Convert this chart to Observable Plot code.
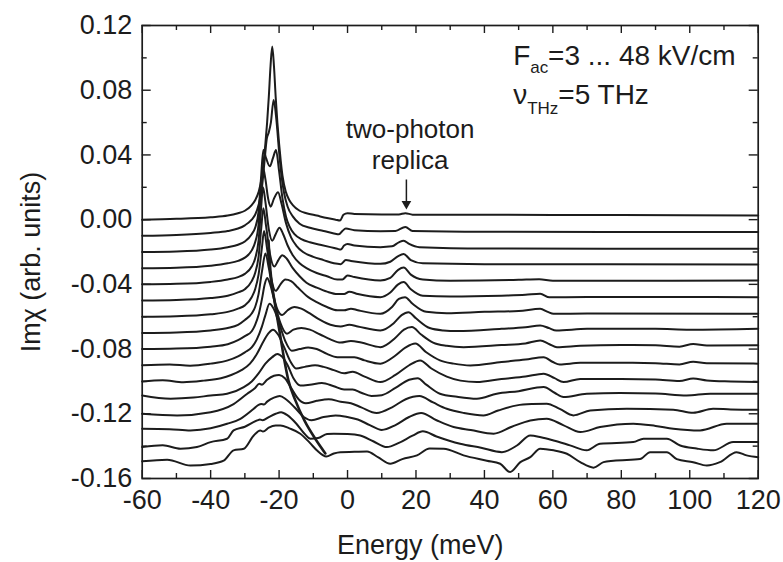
<!DOCTYPE html>
<html><head><meta charset="utf-8">
<script src="https://cdn.jsdelivr.net/npm/d3@7"></script>
<script src="https://cdn.jsdelivr.net/npm/@observablehq/plot@0.6"></script>
<style>html,body{margin:0;padding:0;background:#fff}</style>
</head><body><div id="chart"></div>
<script>
// tick values
const energyTicksMajor = [-60,-40,-20,0,20,40,60,80,100,120];
const energyTicksMinor = [-50,-30,-10,10,30,50,70,90,110];
const imTicksMajor = [0.12,0.08,0.04,0,-0.04,-0.08,-0.12,-0.16];
const imTicksMinor = [0.10,0.06,0.02,-0.02,-0.06,-0.10,-0.14];

// vertical offsets of the stacked spectra (F_ac = 3, 6, ... 48 kV/cm)
const offsets = [0,-0.01,-0.02,-0.03,-0.04,-0.05,-0.06,-0.07,-0.08,-0.09,-0.10,-0.11,-0.12,-0.13,-0.14,-0.15];

// spectra: [energy meV, Im chi relative to its own baseline]
const c00 = [[-60,0],[-50,0.0005],[-40,0.0015],[-35,0.0025],[-32,0.004],[-30,0.0055],[-28,0.009],[-27,0.012],[-26,0.017],[-25,0.027],[-24.5,0.036],[-24,0.047],[-23.5,0.06],[-23,0.076],[-22.5,0.095],[-22,0.107],[-21.5,0.095],[-21,0.076],[-20.5,0.06],[-20,0.047],[-19.5,0.036],[-19,0.027],[-18,0.017],[-17,0.012],[-16,0.009],[-14,0.0055],[-12,0.004],[-9,0.0025],[-6,0.001],[-3.5,0],[-2.2,-0.0005],[-1.2,0.003],[0,0.004],[2,0.0035],[10,0.0032],[15,0.0032],[16.9,0.004],[19,0.0031],[40,0.003],[80,0.0028],[120,0.0025]];
const c01 = [[-60,0],[-50,0.0005],[-40,0.0018],[-35,0.003],[-32,0.0045],[-30,0.0065],[-28,0.01],[-27,0.013],[-26,0.019],[-25,0.03],[-24.3,0.045],[-23.6,0.06],[-23,0.064],[-22.4,0.07],[-21.6,0.084],[-20.8,0.072],[-20,0.052],[-19.3,0.037],[-18.5,0.026],[-17.5,0.018],[-16,0.012],[-14,0.0075],[-11,0.005],[-7,0.003],[-4,0.0015],[-2.5,0.001],[-1.5,0.003],[-0.5,0.0045],[2,0.0035],[9.6,0.0029],[14,0.003],[16.9,0.0055],[19,0.003],[40,0.0025],[120,0.0023]];
const c02 = [[-60,0],[-50,0.0003],[-40,0.0015],[-35,0.003],[-32,0.0045],[-30,0.0065],[-28,0.011],[-27,0.015],[-26,0.025],[-25.3,0.045],[-24.6,0.063],[-23.8,0.058],[-22.7,0.053],[-21.8,0.058],[-20.9,0.063],[-20,0.05],[-19,0.033],[-18,0.022],[-17,0.016],[-15.5,0.011],[-13.5,0.008],[-11,0.006],[-8,0.0045],[-5,0.003],[-3,0.002],[-2,0.0015],[-1,0.004],[0,0.005],[2,0.004],[9.6,0.003],[13,0.0035],[15,0.006],[16.4,0.007],[18,0.005],[21,0.003],[40,0.0022],[120,0.002]];
const c03 = [[-60,0],[-50,0.0003],[-40,0.0015],[-35,0.003],[-32,0.0045],[-30,0.0065],[-28,0.011],[-27,0.016],[-26,0.027],[-25.3,0.048],[-24.7,0.062],[-24,0.055],[-23.2,0.043],[-22.5,0.038],[-21.5,0.043],[-20.3,0.047],[-19.3,0.04],[-18,0.028],[-16.5,0.019],[-15,0.014],[-13,0.01],[-10,0.007],[-7,0.005],[-4,0.003],[-2,0.0025],[-0.5,0.005],[1,0.0045],[9.6,0.0027],[12.5,0.004],[14.8,0.0075],[16.4,0.0087],[18.5,0.005],[22,0.003],[40,0.0025],[120,0.0023]];
const c04 = [[-60,0],[-50,0.0003],[-40,0.0015],[-35,0.003],[-32,0.0045],[-30,0.0065],[-28,0.011],[-27,0.016],[-26,0.027],[-25.3,0.046],[-24.7,0.06],[-24,0.051],[-23,0.034],[-22,0.027],[-21,0.031],[-19.9,0.035],[-18.8,0.031],[-17.5,0.024],[-16,0.018],[-14,0.013],[-12,0.01],[-9,0.007],[-6,0.005],[-3,0.003],[-1.5,0.003],[0,0.0055],[2,0.0045],[9.6,0.0024],[12.5,0.004],[14.8,0.009],[16.4,0.0104],[18.5,0.006],[22,0.003],[30,0.0022],[50,0.0028],[56,0.0032],[60,0.0022],[120,0.0024]];
const c05 = [[-60,0],[-50,0.0003],[-40,0.0015],[-35,0.003],[-32,0.005],[-30,0.007],[-28,0.012],[-27,0.017],[-26,0.027],[-25.2,0.045],[-24.6,0.057],[-23.8,0.046],[-22.6,0.028],[-21.4,0.021],[-20.2,0.025],[-19.1,0.028],[-17.8,0.026],[-16,0.02],[-14,0.015],[-12,0.011],[-9,0.008],[-6,0.0055],[-3,0.004],[-1,0.004],[0.5,0.0055],[3,0.004],[9.6,0.0021],[12.5,0.005],[14.8,0.01],[16.4,0.0114],[18.5,0.007],[22,0.003],[30,0.0025],[45,0.003],[52,0.0035],[56.3,0.0042],[59,0.002],[70,0.0022],[120,0.0021]];
const c06 = [[-60,0],[-50,0.0003],[-40,0.0015],[-35,0.003],[-32,0.005],[-30,0.007],[-28,0.012],[-27,0.017],[-26,0.026],[-25,0.043],[-24.4,0.053],[-23.5,0.042],[-22.3,0.024],[-21,0.016],[-19.6,0.02],[-18.2,0.023],[-16.5,0.022],[-14.5,0.018],[-12,0.013],[-9,0.009],[-6,0.006],[-3,0.004],[-1,0.004],[1,0.005],[3,0.004],[9.6,0.0018],[13,0.006],[15,0.011],[16.8,0.0121],[19,0.008],[23,0.003],[29,0.0022],[40,0.003],[50,0.0035],[56.3,0.0049],[58.5,0.003],[60.2,0.0018],[70,0.002],[120,0.0018]];
const c07 = [[-60,0],[-50,0.0003],[-40,0.0015],[-35,0.003],[-32,0.005],[-30,0.008],[-28,0.012],[-27,0.016],[-26,0.024],[-25,0.038],[-24,0.049],[-23,0.04],[-21.8,0.025],[-20.4,0.014],[-19.1,0.011],[-17.5,0.014],[-15.5,0.016],[-13.5,0.015],[-11,0.012],[-8,0.008],[-5,0.005],[-2,0.004],[0.5,0.005],[3,0.004],[9.6,0.0015],[13.5,0.006],[15.8,0.011],[17.8,0.0128],[20,0.009],[24,0.003],[28,0.0015],[32,0.0011],[45,0.0025],[52,0.0035],[56.3,0.0046],[58.8,0.003],[61,0.0015],[70,0.0025],[90,0.0025],[100,0.002],[120,0.0026]];
const c08 = [[-60,0],[-50,0.0003],[-40,0.0015],[-35,0.003],[-32,0.0055],[-30,0.008],[-28,0.011],[-27,0.015],[-26,0.021],[-25,0.031],[-24.2,0.04],[-23.5,0.044],[-22.6,0.04],[-21.3,0.029],[-19.6,0.016],[-17.7,0.0095],[-15.8,0.012],[-13.5,0.013],[-11,0.012],[-8,0.009],[-5,0.006],[-2,0.004],[1,0.005],[4,0.004],[9.6,0.0012],[14,0.007],[16.5,0.012],[18.8,0.0136],[21.5,0.009],[25,0.004],[29,0.002],[33.9,0.0012],[45,0.0025],[52,0.0035],[56.3,0.0053],[59,0.003],[61.2,0.0012],[68,0.002],[80,0.0025],[90,0.0023],[97,0.0015],[101,0.0032],[105,0.0022],[120,0.0023]];
const c09 = [[-60,0],[-52,0.0005],[-46,-0.0003],[-40,0.001],[-35,0.003],[-32,0.0055],[-30,0.008],[-28,0.011],[-26.5,0.016],[-25,0.024],[-24,0.031],[-22.8,0.038],[-21.6,0.035],[-20,0.026],[-18.2,0.015],[-16.3,0.009],[-14,0.01],[-11.5,0.011],[-9,0.01],[-6,0.007],[-3,0.005],[0,0.005],[2,0.005],[5,0.003],[9.6,0.001],[14,0.006],[17,0.011],[19.8,0.0134],[23,0.008],[27,0.003],[31,0.001],[35.9,-0.0001],[45,0.002],[52,0.0035],[57.3,0.005],[60,0.002],[62,0.0005],[68,0.0015],[80,0.0015],[90,0.0013],[97,0.0005],[101,0.0022],[105,0.0012],[120,0.001]];
const c10 = [[-60,0],[-54,0.0008],[-48,-0.0005],[-42,0.0005],[-37,0.002],[-34,0.004],[-31,0.007],[-28.5,0.011],[-26.5,0.017],[-24.5,0.025],[-23,0.03],[-21.8,0.032],[-20.3,0.029],[-18.5,0.021],[-16.6,0.012],[-15,0.008],[-12.5,0.009],[-9.5,0.01],[-7,0.009],[-4,0.007],[-1,0.005],[1.5,0.006],[5,0.003],[9.6,-0.0004],[14,0.004],[18,0.01],[21.2,0.013],[24.5,0.008],[29,0.003],[33,0.0005],[37.8,-0.0004],[45,0.0015],[52,0.003],[57.3,0.0048],[60.5,0.002],[63.1,-0.0004],[68,0.0015],[80,0.0015],[90,0.0012],[97,0.0003],[101,0.0018],[105,0.0006],[112,0],[120,-0.0004]];
const c11 = [[-60,0.0013],[-51.7,-0.0007],[-45,0],[-40,0.0013],[-35.2,0.0024],[-30.3,0.0065],[-28,0.01],[-26,0.015],[-24,0.021],[-22,0.025],[-20.5,0.027],[-19,0.025],[-17.5,0.02],[-15.8,0.012],[-13.8,0.0075],[-11,0.008],[-7.5,0.009],[-4,0.007],[-1,0.005],[1.5,0.005],[4,0.003],[7,0.001],[10,0.0015],[14,0.006],[18,0.011],[20.5,0.012],[23,0.008],[27,0.0024],[32,0.0005],[37.8,-0.0007],[43.6,0.0024],[50,0.004],[57.3,0.0065],[60.5,0.003],[63.1,0.0003],[69.9,0.0024],[79.6,0.0028],[90,0.0025],[99.1,0.0013],[106,0.0024],[120,0.0024]];
const c12 = [[-60,0],[-49.8,-0.001],[-40,0.001],[-33.3,0.006],[-29.3,0.0124],[-27,0.016],[-25.8,0.0185],[-25,0.018],[-23.5,0.021],[-21.5,0.0235],[-20,0.024],[-18.3,0.022],[-16.5,0.016],[-14.3,0.009],[-12.2,0.0065],[-9,0.008],[-5.5,0.009],[-2,0.0075],[1,0.0065],[4,0.004],[8.5,0.0005],[13,0.004],[17,0.009],[21,0.011],[25,0.007],[29,0.0031],[34,0.0005],[39.7,-0.001],[44,0.002],[49.5,0.0052],[54,0.006],[58.2,0.0062],[62,0.003],[66,-0.001],[70.9,0.002],[81.6,0.0031],[95.2,0.0025],[101,0.0006],[106.8,0.0031],[112,0.0027],[120,0.0025]];
const c13 = [[-60,0.0008],[-52,0.0005],[-45.9,-0.0003],[-40,0.001],[-35.2,0.0038],[-31.3,0.0069],[-27.4,0.0131],[-26,0.0155],[-25.2,0.016],[-24.4,0.0158],[-23.5,0.0175],[-21.5,0.02],[-19.8,0.021],[-18,0.019],[-15.5,0.014],[-12.8,0.008],[-10.5,0.006],[-7,0.008],[-3.5,0.009],[0,0.008],[3,0.0065],[6.5,0.003],[10,0],[14,0.003],[18,0.008],[21.5,0.0105],[26,0.006],[31,0.0018],[36,0],[42.7,-0.0023],[48,0.002],[53.4,0.0059],[58.2,0.007],[63,0.003],[68,-0.0013],[73.8,0.0018],[83.5,0.0039],[90,0.0025],[95.2,0.0008],[103,-0.0003],[110.8,0.0039],[120,0.0039]];
const c14 = [[-60,-0.0006],[-54,0.0005],[-48.8,-0.0016],[-44,-0.0005],[-40,0.0025],[-35.2,0.0046],[-33.3,0.0097],[-30,0.012],[-26.4,0.0159],[-25.6,0.0165],[-24.8,0.016],[-23,0.018],[-21,0.02],[-19.4,0.021],[-17.5,0.019],[-15,0.014],[-12.5,0.0075],[-10.8,0.0045],[-8.6,0.005],[-6,0.0075],[-4,0.0077],[0,0.0075],[3.7,0.0066],[7.5,0.003],[11.5,-0.0006],[15,0.002],[19,0.0065],[22,0.0092],[26,0.006],[32.9,0.0015],[39,-0.001],[45.1,-0.0037],[49.5,0.0004],[53.4,0.0066],[56.5,0.0055],[60.2,0.0035],[65,0.0005],[69.9,-0.0026],[73.8,0.0015],[83.5,0.0025],[86.5,0.0046],[93.3,0.0046],[97.2,0.0004],[102,-0.0015],[106.9,-0.0026],[112.7,0.0025],[120,0.0025]];
const c15 = [[-60,0.0006],[-52.7,0.0016],[-45.9,-0.002],[-40,-0.001],[-36.2,0.001],[-33.3,0.0074],[-30.3,0.0084],[-27.4,0.0166],[-25.5,0.0197],[-24.7,0.019],[-23,0.0215],[-21,0.0228],[-19.6,0.0228],[-17,0.021],[-13.8,0.0177],[-11,0.012],[-8.9,0.0073],[-6.2,0.0036],[-4,0.0055],[-2.1,0.0063],[2,0.0065],[5.7,0.0067],[9,0.003],[12.5,-0.0009],[16,0.002],[20.3,0.0043],[24,0.0085],[28.1,0.0084],[33.9,0.0043],[40.7,0.001],[44.6,-0.0009],[47.5,-0.006],[50.5,0.0001],[53.4,0.0032],[56.3,0.0084],[60.2,0.0074],[64.1,0.0053],[68,0.0001],[71.9,-0.0033],[74.8,0.0001],[77.7,0.001],[85.5,0.002],[88.4,0.0063],[93.3,0.0063],[96.2,0.002],[101,0.0001],[105,-0.002],[108.8,0.0001],[113.7,0.0063],[116.6,0.0043],[120,0.0032]];

// guide line through the shifting minimum (already in plotted units)
const guide = [[-23.1,-0.013],[-22.54,-0.0314],[-21.37,-0.0499],[-19.91,-0.0685],[-18.45,-0.087],[-17.28,-0.0993],[-15.24,-0.1117],[-12.61,-0.1241],[-9.1,-0.1365],[-6.48,-0.1445]];

// annotations
const notesLarge = [
  {e:48.4, y:0.0953, t:"F"},
  {e:58.6, y:0.0953, t:"=3 ... 48 kV/cm"},
  {e:48.4, y:0.0716, t:"ν"},
  {e:61.6, y:0.0716, t:"=5 THz"}
];
const notesSub = [
  {e:53.4, y:0.0905, t:"ac"},
  {e:52.5, y:0.0655, t:"THz"}
];
const replicaText = [
  {e:18.3, y:0.0502, t:"two-photon"},
  {e:18.3, y:0.0316, t:"replica"}
];
const arrowX = [17.2];
const arrowShaft = {y1:0.0245, y2:0.011};
const arrowTip = [{e:17.2, y:0.0098}];

const curves = [c00,c01,c02,c03,c04,c05,c06,c07,c08,c09,c10,c11,c12,c13,c14,c15];
const rows = curves.flatMap((c,i)=>c.map(([e,r])=>({e, y:r+offsets[i], k:i})));

const W=783, H=562, mL=141.7, mR=25.3, mT=25, mB=84;
const innerW=W-mL-mR, innerH=H-mT-mB;
const ink="#1c1c1c";
const font="Liberation Sans, Arial, Helvetica, sans-serif";

const chart = Plot.plot({
  width:W, height:H, marginLeft:mL, marginRight:mR, marginTop:mT, marginBottom:mB,
  x:{domain:[-60,120], label:null},
  y:{domain:[-0.16,0.12], label:null},
  style:{fontFamily:font, color:ink, background:"#fff"},
  marks:[
    Plot.line(rows, {x:"e", y:"y", z:"k", curve:"monotone-x", stroke:ink, strokeWidth:2}),
    Plot.line(guide, {x:d=>d[0], y:d=>d[1], curve:"monotone-x", stroke:ink, strokeWidth:2.6}),
    // inward ticks
    Plot.tickX(energyTicksMajor, {x:d=>d, insetTop:innerH-8, stroke:ink, strokeWidth:1.4}),
    Plot.tickX(energyTicksMinor, {x:d=>d, insetTop:innerH-5, stroke:ink, strokeWidth:1.4}),
    Plot.tickX(energyTicksMajor, {x:d=>d, insetBottom:innerH-8, stroke:ink, strokeWidth:1.4}),
    Plot.tickX(energyTicksMinor, {x:d=>d, insetBottom:innerH-5, stroke:ink, strokeWidth:1.4}),
    Plot.tickY(imTicksMajor, {y:d=>d, insetRight:innerW-9, stroke:ink, strokeWidth:1.4}),
    Plot.tickY(imTicksMinor, {y:d=>d, insetRight:innerW-5, stroke:ink, strokeWidth:1.4}),
    Plot.tickY(imTicksMajor, {y:d=>d, insetLeft:innerW-9, stroke:ink, strokeWidth:1.4}),
    Plot.tickY(imTicksMinor, {y:d=>d, insetLeft:innerW-5, stroke:ink, strokeWidth:1.4}),
    Plot.axisX({ticks:energyTicksMajor, tickSize:0, tickPadding:11, fontSize:27, tickFormat:d=>String(d), label:null, fill:ink}),
    Plot.axisY({ticks:imTicksMajor, tickSize:0, tickPadding:10, fontSize:27, tickFormat:d=>d.toFixed(2), label:null, fill:ink}),
    Plot.frame({stroke:ink, strokeWidth:1.7}),
    // axis titles
    Plot.text(["Energy (meV)"], {frameAnchor:"bottom", text:d=>d, dx:-30, dy:67, fontSize:27, lineAnchor:"middle", fill:ink}),
    Plot.text(["Imχ (arb. units)"], {frameAnchor:"left", text:d=>d, dx:-111, dy:10, rotate:-90, fontSize:27, lineAnchor:"middle", textAnchor:"middle", fill:ink}),
    // annotations
    Plot.text(notesLarge, {x:"e", y:"y", text:"t", textAnchor:"start", lineAnchor:"bottom", fontSize:28, fill:ink}),
    Plot.text(notesSub, {x:"e", y:"y", text:"t", textAnchor:"start", lineAnchor:"bottom", fontSize:17, fill:ink}),
    Plot.text(replicaText, {x:"e", y:"y", text:"t", textAnchor:"middle", lineAnchor:"bottom", fontSize:26, fill:ink}),
    Plot.ruleX(arrowX, {x:d=>d, y1:arrowShaft.y1, y2:arrowShaft.y2, stroke:ink, strokeWidth:1.5}),
    Plot.dot(arrowTip, {x:"e", y:"y", symbol:"triangle", rotate:180, r:3.6, fill:ink, stroke:null})
  ]
});
document.getElementById("chart").appendChild(chart);
</script>
</body></html>
